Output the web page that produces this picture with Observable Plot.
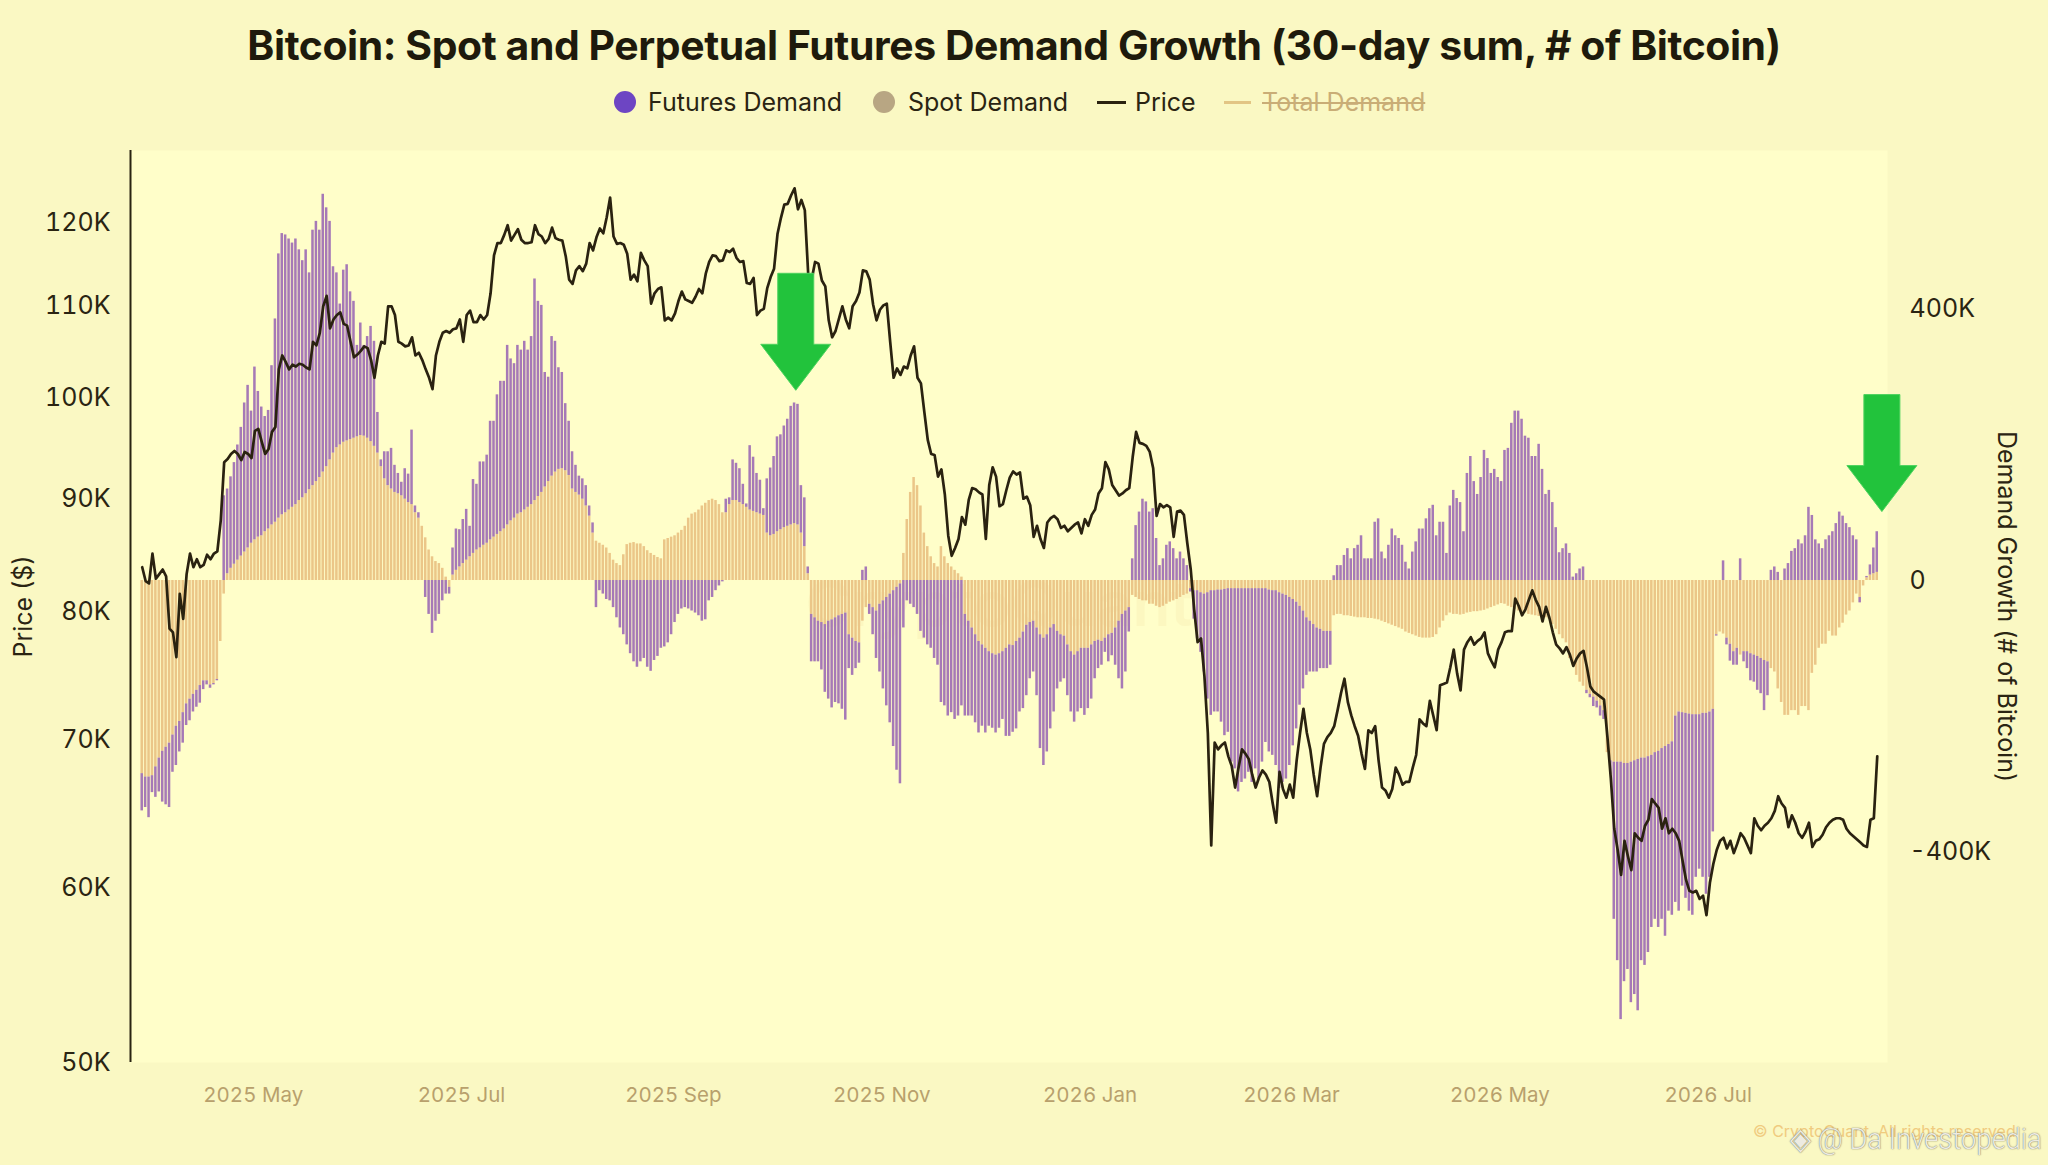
<!DOCTYPE html>
<html>
<head>
<meta charset="utf-8">
<script src="https://cdn.jsdelivr.net/npm/d3@7"></script>
<script src="https://cdn.jsdelivr.net/npm/@observablehq/plot@0.6"></script>
<style>
  html, body { margin:0; padding:0; width:2048px; height:1165px; overflow:hidden; background:#FAF8C3; font-family:Inter, "Noto Sans", sans-serif; color:#2A2412; }
  #title { position:absolute; left:-10px; top:24px; width:2048px; text-align:center; white-space:nowrap; }
  #title span { font-weight:700; font-size:38px; line-height:1; letter-spacing:-0.01em; color:#1E1A0C; }
  .ldot { position:absolute; top:91px; width:22px; height:22px; border-radius:50%; }
  .lline { position:absolute; top:101px; height:3px; }
  .ltext { position:absolute; top:88px; font-size:25px; line-height:28px; white-space:nowrap; color:#2A2412; }
  #chart { position:absolute; left:0; top:130px; width:2048px; height:1035px; }
  #chart svg { position:absolute; left:0; top:0; }
  #copy { position:absolute; left:1753px; top:1121px; font-size:16px; color:#EFC474; white-space:nowrap; opacity:0.85; }
  #wm { position:absolute; left:1790px; top:1121px; font-size:30px; line-height:36px; font-family:Roboto, sans-serif; font-weight:300; color:#EDEBE2; white-space:nowrap; transform-origin:0 50%; text-shadow:0 0 1px rgba(70,70,60,0.75), 0 0 2px rgba(70,70,60,0.35); }
</style>
</head>
<body>
<div id="title"><span>Bitcoin: Spot and Perpetual Futures Demand Growth (30-day sum, # of Bitcoin)</span></div>
<div id="legend">
  <span class="ldot" style="left:614px;background:#6D45C3"></span>
  <span class="ltext" style="left:648px">Futures Demand</span>
  <span class="ldot" style="left:873px;background:#B8A683"></span>
  <span class="ltext" style="left:908px">Spot Demand</span>
  <span class="lline" style="left:1097px;width:29px;background:#2A2210"></span>
  <span class="ltext" style="left:1135px">Price</span>
  <span class="lline" style="left:1224px;width:27px;background:#E2C584"></span>
  <span class="ltext" style="left:1262px;color:#C9AD76;text-decoration:line-through;">Total Demand</span>
</div>
<div id="chart"></div>
<div id="copy">© CryptoQuant. All rights reserved</div>
<div id="wm">◈ @ Da Investopedia</div>
<script>
// ---------------- DATA ----------------
const startDate = "2025-03-29"; // first daily value

// BTC price, thousands of USD (daily)
const price = [
83.8,82.6,82.4,85.0,82.8,83.2,83.6,83.0,78.6,78.3,
76.3,81.5,79.4,83.2,85.0,83.8,84.5,83.8,84.0,84.9,
84.5,85.0,85.2,88.0,93.5,93.8,94.3,94.6,94.3,93.7,
94.5,94.3,93.9,96.6,96.8,95.5,94.3,94.8,96.5,97.0,
103.0,104.5,103.8,103.0,103.5,103.3,103.6,103.5,103.2,103.0,
106.0,105.6,107.0,110.0,111.2,107.5,108.5,109.0,109.3,108.0,
107.8,106.0,104.3,104.6,105.0,105.5,105.3,104.0,102.1,104.5,
106.0,105.8,110.0,110.0,109.0,106.0,105.8,105.5,105.6,106.5,
104.5,104.8,104.0,103.0,102.1,100.9,104.5,106.0,107.0,107.2,
107.0,107.4,107.5,108.5,106.0,109.0,109.5,108.2,108.2,109.0,
108.5,109.0,111.5,116.0,117.5,117.5,118.5,119.7,117.8,118.5,
119.2,117.9,117.5,117.5,117.6,119.7,118.6,118.3,117.5,118.0,
119.4,118.1,117.9,117.8,115.9,113.1,112.6,114.2,114.7,114.1,
115.0,117.5,116.6,118.2,119.3,118.7,120.7,123.2,118.3,117.4,
117.5,117.3,116.2,113.1,113.7,112.9,116.3,115.4,114.7,110.3,
111.5,112.0,112.2,108.4,108.7,108.4,109.2,110.6,111.7,110.8,
110.6,110.4,111.1,112.0,111.5,113.8,115.2,116.0,115.9,115.3,
115.4,116.6,116.4,116.8,115.7,115.2,115.3,112.7,112.6,113.3,
109.0,109.5,109.7,112.1,113.4,114.4,118.6,120.6,122.3,122.4,
123.5,124.4,121.7,122.9,121.6,113.7,113.1,115.2,115.0,113.0,
112.3,108.4,106.5,107.2,108.6,110.0,108.5,107.5,110.0,110.6,
111.6,114.2,114.1,113.1,110.2,108.4,109.6,110.1,110.3,106.0,
102.1,103.1,102.4,103.3,103.1,104.5,105.5,102.1,101.5,98.5,
95.7,94.3,94.2,92.1,92.8,90.4,86.6,84.8,85.5,86.3,
88.3,87.6,89.9,91.0,90.9,90.6,90.4,86.3,91.3,93.0,
92.1,89.3,89.5,90.8,92.0,92.6,92.3,92.5,90.0,90.2,
89.4,86.5,87.5,86.3,85.5,87.8,88.2,88.4,88.1,87.3,
87.5,87.0,87.3,87.6,87.8,86.8,88.1,87.5,88.5,89.0,
90.5,91.0,93.5,92.8,91.3,90.8,90.3,90.5,90.8,91.0,
94.0,96.5,95.4,95.3,95.1,94.5,92.9,88.4,89.5,89.2,
89.4,89.2,86.5,88.8,88.9,88.5,85.9,83.6,80.2,77.5,
77.8,74.8,70.5,62.7,69.8,69.3,69.6,69.8,68.8,68.1,
66.6,68.0,69.3,69.0,68.6,67.5,66.6,67.3,67.8,67.5,
67.0,65.5,64.2,67.7,66.5,65.9,66.8,65.9,68.5,70.5,
72.3,70.5,69.3,67.5,66.0,68.0,69.7,70.2,70.5,71.0,
72.2,73.5,74.6,72.8,71.8,71.0,70.3,69.0,67.9,70.7,
70.5,71.0,68.5,66.6,66.4,65.9,66.5,68.0,67.5,66.8,
67.0,67.0,68.0,68.9,71.5,71.2,71.0,72.9,71.8,70.7,
74.1,74.2,74.3,75.5,76.9,75.0,73.7,76.9,77.5,77.9,
77.3,77.6,77.8,78.3,76.6,76.0,75.5,76.9,77.5,78.3,
78.4,78.4,81.1,80.5,79.7,80.2,81.0,81.8,81.0,80.4,
79.2,80.4,79.5,78.3,77.3,77.0,76.6,77.1,76.5,75.6,
76.2,76.6,76.8,75.5,74.0,73.6,73.4,73.2,73.0,70.2,
67.2,63.8,62.4,60.8,63.0,62.0,61.1,63.5,63.2,63.0,
64.0,64.4,65.8,65.5,65.2,63.8,64.5,63.5,63.8,63.5,
63.0,61.7,60.5,59.8,59.7,59.8,59.3,59.5,58.3,60.3,
61.5,62.4,63.0,63.2,62.5,63.0,62.2,62.8,63.5,63.2,
62.7,62.2,64.5,64.0,63.7,64.0,64.2,64.5,65.0,66.0,
65.5,65.2,63.9,64.7,64.2,63.5,63.2,63.6,64.2,62.6,
63.0,63.1,63.4,63.9,64.2,64.4,64.5,64.5,64.4,63.8,
63.5,63.3,63.1,62.9,62.7,62.6,64.4,64.5,68.8
];

// Spot demand growth, thousands of BTC (30-day sum, daily)
const spotDemand = [
-285,-290,-290,-288,-275,-262,-252,-246,-240,-228,
-215,-208,-195,-182,-175,-168,-162,-155,-148,-148,
-154,-152,-146,-90,-20,10,18,24,30,36,
42,48,55,60,64,66,72,76,82,86,
92,97,100,104,108,112,118,122,128,134,
140,146,152,160,168,178,188,196,200,204,
206,208,210,212,214,213,210,205,198,188,
168,150,140,135,130,128,125,120,115,112,
100,92,80,63,45,35,28,25,18,5,
-10,8,15,20,25,30,35,40,45,48,
52,55,60,64,68,72,76,82,88,92,
98,100,104,108,112,118,124,130,138,146,
154,160,164,165,162,155,135,130,126,120,
110,95,70,58,55,52,48,40,30,25,
22,38,53,55,56,54,54,50,44,40,
37,34,32,60,62,64,66,70,74,80,
92,98,100,104,110,114,118,120,118,112,
100,100,112,118,118,115,112,108,104,102,
100,98,96,70,66,68,72,75,78,80,
82,84,82,70,50,10,-50,-55,-60,-62,
-65,-60,-58,-55,-52,-50,-48,-80,-85,-90,
-92,-60,-40,-35,-40,-45,-35,-30,-25,-20,
-15,-10,-5,40,90,130,152,140,110,70,
50,35,25,20,50,35,25,20,15,10,
5,-50,-60,-70,-80,-90,-95,-100,-105,-108,
-110,-108,-105,-100,-95,-96,-90,-85,-76,-66,
-62,-60,-70,-80,-85,-80,-70,-65,-75,-80,
-82,-95,-105,-110,-105,-100,-100,-100,-95,-90,
-88,-90,-85,-80,-78,-70,-60,-50,-45,-40,
-22,-25,-28,-30,-30,-35,-35,-38,-40,-38,
-35,-32,-30,-28,-25,-22,-20,-12,-15,-15,
-18,-20,-18,-15,-15,-14,-14,-13,-12,-12,
-12,-12,-12,-12,-12,-12,-12,-12,-12,-12,
-14,-15,-15,-18,-20,-22,-25,-28,-32,-38,
-45,-55,-60,-65,-70,-72,-75,-75,-75,-52,
-50,-50,-52,-52,-53,-54,-55,-55,-55,-56,
-56,-57,-58,-60,-62,-64,-66,-68,-70,-72,
-76,-78,-80,-82,-84,-85,-85,-85,-84,-80,
-70,-60,-52,-48,-50,-50,-51,-50,-48,-47,
-46,-46,-45,-44,-42,-40,-38,-36,-34,-35,
-38,-40,-43,-45,-47,-48,-50,-51,-52,-53,
-54,-55,-57,-65,-72,-80,-86,-92,-115,-125,
-140,-150,-156,-162,-168,-172,-178,-185,-192,-254,
-266,-268,-268,-268,-270,-270,-268,-266,-264,-262,
-262,-260,-258,-254,-252,-248,-245,-242,-238,-200,
-194,-195,-196,-197,-198,-198,-198,-196,-196,-194,
-190,-80,-76,-79,-85,-94,-105,-100,-110,-105,
-105,-108,-110,-112,-115,-118,-120,-130,-135,-160,
-180,-199,-199,-192,-192,-199,-186,-186,-192,-137,
-125,-100,-94,-94,-75,-82,-82,-70,-63,-51,
-45,-33,-20,-25,-8,4,8,10,12
];

// Perpetual futures demand growth, thousands of BTC (30-day sum, daily)
const futuresDemand = [
-55,-45,-60,-25,-45,-50,-75,-85,-95,-55,
-58,-45,-45,-32,-32,-26,-25,-26,-13,-6,
-5,-2,-2,0,125,125,135,150,170,190,
220,240,195,255,215,190,170,175,235,300,
390,415,410,400,390,392,370,350,360,320,
377,384,365,410,382,352,275,258,208,254,
260,218,202,135,166,134,150,170,155,60,
10,40,50,60,40,30,20,45,42,110,
10,8,0,-25,-50,-78,-60,-50,-30,-20,
-10,40,61,55,65,75,45,109,97,127,
123,130,175,171,206,222,218,265,239,228,
249,240,249,232,248,327,288,276,169,154,
206,193,150,142,99,80,55,40,28,30,
30,15,15,-40,-15,-20,-28,-30,-40,-55,
-70,-80,-95,-108,-120,-128,-120,-115,-128,-134,
-118,-112,-100,-98,-92,-80,-62,-50,-42,-40,
-42,-45,-48,-52,-60,-58,-30,-25,-15,-8,
-2,20,10,60,55,50,30,5,95,80,
58,50,10,80,100,115,140,140,150,158,
175,178,178,70,72,10,-70,-65,-60,-70,
-100,-115,-130,-125,-130,-140,-158,-50,-55,-40,
-30,15,20,-15,-40,-70,-100,-130,-160,-190,
-230,-270,-295,-70,-30,-35,-40,-50,-75,-85,
-95,-100,-115,-125,-180,-185,-200,-195,-205,-200,
-185,-150,-140,-130,-130,-135,-120,-125,-110,-110,
-115,-110,-100,-130,-135,-128,-129,-109,-113,-104,
-83,-75,-100,-168,-188,-173,-149,-129,-85,-70,
-63,-75,-89,-99,-89,-89,-99,-89,-80,-55,
-42,-35,-21,-40,-33,-55,-85,-110,-90,-36,
32,81,101,120,116,101,106,62,22,32,
52,57,47,32,42,32,22,-5,-42,-71,
-88,-115,-157,-184,-179,-180,-195,-216,-212,-256,
-266,-300,-286,-281,-271,-286,-266,-281,-256,-227,
-239,-243,-258,-289,-278,-271,-248,-216,-187,-146,
-115,-85,-75,-70,-65,-58,-55,-55,-50,7,
22,22,37,47,32,47,52,66,32,32,
32,86,91,42,32,52,76,66,62,52,
27,17,42,57,76,76,91,106,111,66,
86,86,40,110,133,121,115,72,158,183,
146,127,152,192,180,158,164,152,146,192,
195,232,250,250,238,213,210,183,183,201,
164,127,133,115,78,41,47,54,40,5,
10,17,20,-5,-5,-14,-10,-15,-13,0,
-20,-232,-293,-380,-322,-304,-355,-345,-371,-299,
-306,-289,-254,-246,-260,-252,-280,-246,-256,-275,
-294,-256,-273,-291,-296,-240,-228,-242,-267,-244,
-181,-2,0,29,-10,-25,-20,-25,32,-15,
-25,-40,-40,-50,-52,-74,-50,15,20,12,
0,17,25,43,47,60,54,66,108,96,
60,54,47,60,66,72,84,101,95,84,
78,66,60,-8,0,2,15,38,60
];

const seriesNames = ["Spot Demand", "Futures Demand"];
const seriesColors = ["#EBC688", "#A679B6"];
const xTickDates = ["2025-05-01","2025-07-01","2025-09-01","2025-11-01","2026-01-01","2026-03-01","2026-05-01","2026-07-01"];
const priceTicksK = [50, 60, 70, 80, 90, 100, 110, 120];
const demandTicksK = [-400, 0, 400];
// annotation arrows: tip at (date, demand in K BTC)
const arrowMarks = [
  {date: "2025-10-07", demand: 280},
  {date: "2026-08-21", demand: 101}
];

// ---------------- BUILD ----------------
const day0 = new Date(startDate + "T00:00:00Z");
const dayAt = (i, h = 0) => new Date(day0.getTime() + (i * 24 + h) * 3600e3);
const n = Math.min(price.length, spotDemand.length, futuresDemand.length);
const bars = [];
for (let i = 0; i < n; i++) {
  bars.push({date: dayAt(i), type: seriesNames[0], value: spotDemand[i] * 1000});
  bars.push({date: dayAt(i), type: seriesNames[1], value: futuresDemand[i] * 1000});
}
const priceRows = price.slice(0, n).map((p, i) => ({date: dayAt(i, 12), price: p * 1000}));

const W = 2048, H = 1035;
const margins = {marginTop: 20, marginBottom: 103, marginLeft: 130, marginRight: 161};
const xDomain = [new Date("2025-03-26T01:41:00Z"), new Date("2026-08-22T12:00:00Z")];
const font = "Inter, 'Noto Sans', sans-serif";

const demandChart = Plot.plot({
  width: W, height: H, ...margins,
  style: {background: "transparent", fontFamily: font, fontSize: "25px", color: "#2A2412", overflow: "visible"},
  x: {type: "utc", domain: xDomain, axis: null},
  y: {domain: [-711300, 634600], axis: null},
  color: {domain: seriesNames, range: seriesColors},
  marks: [
    Plot.frame({fill: "#FFFEC9", stroke: "none"}),
    Plot.text(["CryptoQuant"], {text: d => d, frameAnchor: "middle", textAnchor: "middle", dx: -10, fontSize: 62, fontWeight: 600, fill: "#EBCF8C", fillOpacity: 0.14}),
    Plot.rectY(bars, {x: "date", y: "value", interval: "day", fill: "type", insetLeft: 0.45, insetRight: 0.45}),
    Plot.axisY({anchor: "right", ticks: demandTicksK.map(v => v * 1000), tickFormat: v => v === 0 ? "0" : `${v / 1000}K`, tickSize: 0, tickPadding: 22, fontSize: 25, label: null}),
    Plot.axisX({ticks: xTickDates.map(d => new Date(d + "T00:00:00Z")), tickFormat: d3.utcFormat("%Y %b"), tickSize: 0, tickPadding: 25, fontSize: 20.5, fill: "#B8A06C", label: null}),
    Plot.text(["Demand Growth (# of Bitcoin)"], {text: d => d, frameAnchor: "right", textAnchor: "middle", dx: 118, rotate: 90, fontSize: 25, fill: "#2A2412"})
  ]
});

const priceChart = Plot.plot({
  width: W, height: H, ...margins,
  style: {background: "transparent", fontFamily: font, fontSize: "25px", color: "#2A2412", overflow: "visible"},
  x: {type: "utc", domain: xDomain, axis: null},
  y: {type: "log", domain: [50000, 129400], axis: null},
  marks: [
    Plot.lineY(priceRows, {x: "date", y: "price", stroke: "#2A2210", strokeWidth: 2.7, strokeLinejoin: "round"}),
    Plot.ruleX([xDomain[0]], {stroke: "#2A2412", strokeWidth: 2}),
    Plot.axisY({anchor: "left", ticks: priceTicksK.map(v => v * 1000), tickFormat: v => `${v / 1000}K`, tickSize: 0, tickPadding: 20, fontSize: 25, label: null}),
    Plot.text(["Price ($)"], {text: d => d, frameAnchor: "left", textAnchor: "middle", dx: -107, rotate: -90, fontSize: 25, fill: "#2A2412"})
  ]
});

const host = document.getElementById("chart");
host.appendChild(demandChart);
host.appendChild(priceChart);

// green block arrows positioned with the demand chart's own scales
const sx = demandChart.scale("x"), sy = demandChart.scale("y");
const g = d3.select(priceChart).append("g").attr("fill", "#22C33C").attr("stroke", "#4ED35F").attr("stroke-width", 1);
for (const a of arrowMarks) {
  const tx = sx.apply(new Date(a.date + "T00:00:00Z"));
  const ty = sy.apply(a.demand * 1000);
  g.append("path").attr("d",
    `M${tx - 18},${ty - 117}H${tx + 18}V${ty - 46}H${tx + 35}L${tx},${ty}L${tx - 35},${ty - 46}H${tx - 18}Z`);
}

// fit title width to the reference span
const ts = document.querySelector("#title span");
const w0 = ts.getBoundingClientRect().width;
const fs = 38 * 1534 / w0;
ts.style.fontSize = fs + "px";
document.getElementById("title").style.top = (48 - 0.56 * fs) + "px";

// fit the watermark inside the page
const wm = document.getElementById("wm");
const ww = wm.getBoundingClientRect().width;
if (ww > 252) wm.style.transform = `scaleX(${252 / ww})`;
</script>
</body>
</html>
